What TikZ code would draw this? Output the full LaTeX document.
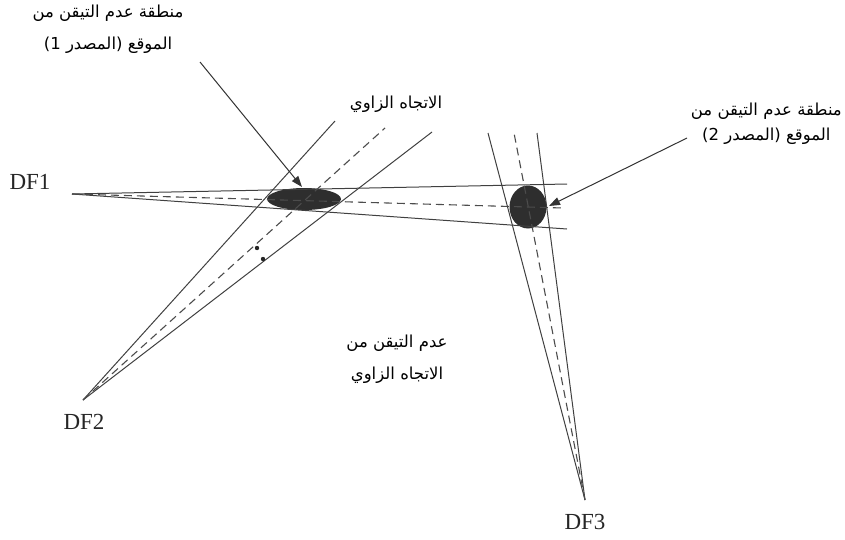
\documentclass[tikz,border=0pt]{standalone}
\usepackage{fontspec}
\setmainfont{Liberation Serif}
\newfontfamily\arabicfont[Script=Arabic]{DejaVu Sans}
\TeXXeTstate=1
\usetikzlibrary{arrows.meta}
\begin{document}
\begin{tikzpicture}[x=1pt,y=-1pt,
  beam/.style={draw=black!75, line width=1pt},
  axisline/.style={draw=black!70, line width=1.1pt, dash pattern=on 8pt off 5pt},
  pointer/.style={draw=black!80, line width=1pt, -{Triangle[length=11pt,width=8pt]}},
  blob/.style={fill=black!82, draw=none},
  dflabel/.style={font=\fontsize{23}{24}\selectfont, inner sep=0pt, text=black!85},
  arlabel/.style={align=center, inner sep=0pt, font=\arabicfont\fontsize{16.5}{32}\selectfont}]
\useasboundingbox (0,0) rectangle (845,539);
% origins of the three direction finders
\coordinate (o1) at (72,194);
\coordinate (o2) at (83,400);
\coordinate (o3) at (585,500);
% beam ends
\coordinate (e1u) at (567,184);
\coordinate (e1c) at (563,208);
\coordinate (e1l) at (567,229);
\coordinate (e2l) at (335,121);
\coordinate (e2c) at (385,128);
\coordinate (e2r) at (432,132);
\coordinate (e3l) at (488,133);
\coordinate (e3c) at (514,133);
\coordinate (e3r) at (537,133);
% uncertainty regions
\fill[blob] (304,199) ellipse [x radius=37, y radius=11];
\fill[blob] (528,207) ellipse [x radius=18.5, y radius=21.5];
% DF1 beam
\draw[beam] (o1) -- (e1u);
\draw[beam] (o1) -- (e1l);
\draw[axisline] (o1) -- (e1c);
% DF2 beam
\draw[beam] (o2) -- (e2l);
\draw[beam] (o2) -- (e2r);
\draw[axisline] (o2) -- (e2c);
% DF3 beam
\draw[beam] (o3) -- (e3l);
\draw[beam] (o3) -- (e3r);
\draw[axisline] (o3) -- (e3c);
% small angle marks
\fill[black!85] (257,248) circle (2.2);
\fill[black!85] (263,259) circle (2.2);
% labels
\node[dflabel] (df1) at (30,182) {DF1};
\node[dflabel] (df2) at (84,422) {DF2};
\node[dflabel] (df3) at (585,522) {DF3};
\node[arlabel] (lab1) at (108,29) {\beginR منطقة عدم التيقن من\endR\\\beginR الموقع (المصدر 1)\endR};
\node[arlabel, font=\arabicfont\fontsize{16.5}{25}\selectfont, anchor=east] (lab2) at (842,124) {\beginR منطقة عدم التيقن من\endR\\\beginR الموقع (المصدر 2)\endR};
\node[arlabel] (lab3) at (396,104) {\beginR الاتجاه الزاوي\endR};
\node[arlabel] (lab4) at (397,359) {\beginR عدم التيقن من\endR\\\beginR الاتجاه الزاوي\endR};
% pointers
\coordinate (p1s) at (200,62);
\coordinate (p1e) at (302,187);
\coordinate (p2s) at (687,138);
\coordinate (p2e) at (549,206);
\draw[pointer] (p1s) -- (p1e);
\draw[pointer] (p2s) -- (p2e);
\end{tikzpicture}
\end{document}
